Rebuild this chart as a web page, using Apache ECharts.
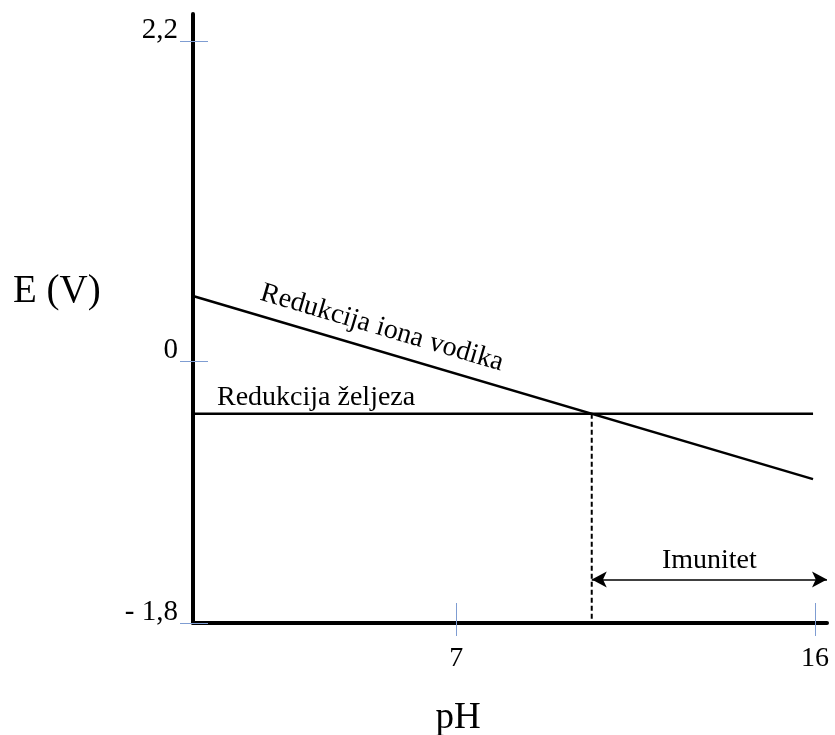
<!DOCTYPE html>
<html>
<head>
<meta charset="utf-8">
<script src="https://cdn.jsdelivr.net/npm/echarts@6/dist/echarts.min.js"></script>
<style>
  html, body { margin: 0; padding: 0; background: #fff; }
  #chart { width: 835px; height: 735px; }
</style>
</head>
<body>
<div id="chart"></div>
<script>
// pH range and E range (schematic Pourbaix-type sketch)
var phRange = [0.4, 16.3];
var eRange = [-1.8, 2.39];
var phTicks = [7, 16];
var eTicks = [-1.8, 0, 2.2];
var eTickLabels = { '-1.8': '- 1,8', '0': '0', '2.2': '2,2' };

// hydrogen reduction line and iron reduction line
var hydrogenLine = [[0.4, 0.45], [15.95, -0.81]];
var ironLine = [[0.4, -0.36], [15.95, -0.36]];
// intersection -> immunity boundary
var immunityPh = 10.4;
var immunityE = -0.36;
var arrowE = -1.5;

var font = '"Liberation Serif", "Times New Roman", serif';
var tickColor = '#7f9dd2';

var chart = echarts.init(document.getElementById('chart'));

var option = {
  backgroundColor: '#fff',
  animation: false,
  grid: { left: 193, right: 8, top: 14, bottom: 112 },
  xAxis: [{
    type: 'value',
    min: phRange[0],
    max: phRange[1],
    splitLine: { show: false },
    axisLine: { show: true, onZero: false, lineStyle: { color: '#000', width: 4 } },
    axisTick: { show: true, customValues: phTicks, length: 13, lineStyle: { color: tickColor, width: 1 } },
    axisLabel: {
      customValues: phTicks,
      margin: 22,
      fontFamily: font,
      fontSize: 28,
      color: '#000'
    }
  }, {
    type: 'value',
    min: phRange[0],
    max: phRange[1],
    position: 'bottom',
    splitLine: { show: false },
    axisLine: { show: false, onZero: false },
    axisTick: { show: true, inside: true, customValues: phTicks, length: 20, lineStyle: { color: tickColor, width: 1 } },
    axisLabel: { show: false }
  }],
  yAxis: [{
    type: 'value',
    min: eRange[0],
    max: eRange[1],
    splitLine: { show: false },
    axisLine: { show: true, onZero: false, lineStyle: { color: '#000', width: 4 } },
    axisTick: { show: true, customValues: eTicks, length: 13, lineStyle: { color: tickColor, width: 1 } },
    axisLabel: {
      customValues: eTicks,
      margin: 15,
      fontFamily: font,
      fontSize: 29,
      color: '#000',
      verticalAlign: 'bottom',
      lineHeight: 22,
      formatter: function (v) {
        var key = String(Math.round(v * 10) / 10);
        return eTickLabels[key] !== undefined ? eTickLabels[key] : '';
      }
    }
  }, {
    type: 'value',
    min: eRange[0],
    max: eRange[1],
    position: 'left',
    splitLine: { show: false },
    axisLine: { show: false, onZero: false },
    axisTick: { show: true, inside: true, customValues: eTicks, length: 15, lineStyle: { color: tickColor, width: 1 } },
    axisLabel: { show: false }
  }],
  series: [{
    name: 'Redukcija iona vodika',
    type: 'line',
    data: hydrogenLine,
    symbol: 'none',
    lineStyle: { color: '#000', width: 2.5 }
  }, {
    name: 'Redukcija željeza',
    type: 'line',
    data: ironLine,
    symbol: 'none',
    lineStyle: { color: '#000', width: 2.5 }
  }, {
    name: 'granica',
    type: 'line',
    data: [[immunityPh, immunityE], [immunityPh, eRange[0]]],
    symbol: 'none',
    lineStyle: { color: '#000', width: 2, type: [5, 3] },
    markLine: {
      silent: true,
      symbol: ['arrow', 'arrow'],
      symbolSize: [12, 15],
      lineStyle: { color: '#000', width: 1.5, type: 'solid' },
      label: {
        show: true,
        position: 'insideMiddleTop',
        distance: 5,
        formatter: 'Imunitet',
        fontFamily: font,
        fontSize: 28,
        color: '#000'
      },
      data: [[{ coord: [immunityPh, arrowE] }, { coord: [phRange[1], arrowE] }]]
    }
  }],
  graphic: [{
    type: 'text',
    left: 13,
    top: 272,
    style: { text: 'E (V)', font: '39px ' + font, fill: '#000' }
  }, {
    type: 'text',
    x: 458,
    y: 718,
    style: { text: 'pH', font: '37px ' + font, fill: '#000', align: 'center', verticalAlign: 'middle' }
  }, {
    type: 'text',
    x: 217,
    y: 398,
    style: { text: 'Redukcija željeza', font: '28px ' + font, fill: '#000', align: 'left', verticalAlign: 'middle' }
  }, {
    type: 'text',
    x: 382,
    y: 328,
    rotation: -16.4 * Math.PI / 180,
    style: { text: 'Redukcija iona vodika', font: '28px ' + font, fill: '#000', align: 'center', verticalAlign: 'middle' }
  }]
};

chart.setOption(option);
</script>
</body>
</html>
